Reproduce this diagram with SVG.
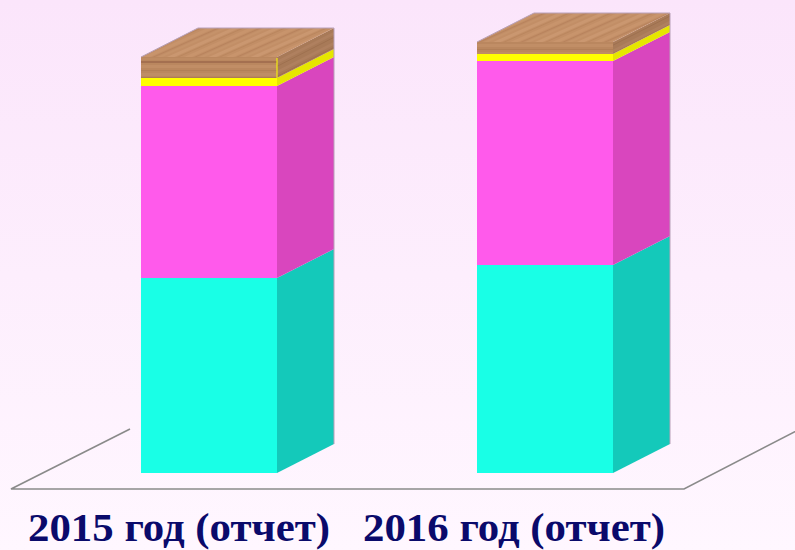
<svg xmlns="http://www.w3.org/2000/svg" width="795" height="550" viewBox="0 0 795 550">
  <defs>
    <linearGradient id="bg" x1="0" y1="0" x2="0" y2="1">
      <stop offset="0" stop-color="#FBE5FB"/>
      <stop offset="1" stop-color="#FFF7FF"/>
    </linearGradient>
    <pattern id="woodFront" patternUnits="userSpaceOnUse" width="40" height="21">
      <rect width="40" height="21" fill="#BA875F"/>
      <rect y="2" width="40" height="3" fill="#C39068" opacity="0.8"/>
      <rect y="7" width="40" height="1" fill="#AE7C56" opacity="0.7"/>
      <rect y="10" width="40" height="3" fill="#C18E66" opacity="0.8"/>
      <rect y="14" width="40" height="1" fill="#A97752" opacity="0.7"/>
      <rect y="16" width="40" height="2" fill="#BF8C64" opacity="0.8"/>
      <rect y="19" width="40" height="2" fill="#A47050"/>
    </pattern>
    <pattern id="woodTop" patternUnits="userSpaceOnUse" width="60" height="17" patternTransform="rotate(-24)">
      <rect width="60" height="17" fill="#C28E66"/>
      <rect y="1" width="60" height="3" fill="#CC9A73" opacity="0.8"/>
      <rect y="5" width="60" height="1" fill="#B48058" opacity="0.6"/>
      <rect y="8" width="60" height="3" fill="#C9966E" opacity="0.8"/>
      <rect y="12" width="60" height="1.2" fill="#B07C56" opacity="0.6"/>
      <rect y="14" width="60" height="2" fill="#C6936B" opacity="0.8"/>
    </pattern>
    <pattern id="woodSide" patternUnits="userSpaceOnUse" width="40" height="10" patternTransform="skewY(-27)">
      <rect width="40" height="10" fill="#A87A58"/>
      <rect y="2" width="40" height="3" fill="#B08260" opacity="0.8"/>
      <rect y="7" width="40" height="1" fill="#9A6C4C" opacity="0.7"/>
    </pattern>
  </defs>
  <style>
    .cyanF{fill:#19FFE6}
    .cyanS{fill:#14C9BA}
    .magF{fill:#FF5AEB}
    .magS{fill:#D946BE}
    .yelF{fill:#FFFF00}
    .yelS{fill:#E6E600}
    .woodF{fill:url(#woodFront)}
    .woodT{fill:url(#woodTop)}
    .woodS{fill:url(#woodSide)}
    .edge{fill:none;stroke:#B8A0B8;stroke-width:1}
    .floor{fill:none;stroke:#8A8A8A;stroke-width:1.6}
    .lbl{font-family:"Liberation Serif","Times New Roman",serif;font-weight:bold;font-size:39px;fill:#0A0A6B}
  </style>
  <rect width="795" height="550" fill="url(#bg)"/>

  <g id="floor">
    <polyline class="floor" points="130,429 11,489 684,489 800,429"/>
  </g>

  <g id="bar-2015">
    <rect class="cyanF" x="141" y="278" width="136" height="195"/>
    <polygon class="cyanS" points="277,278 334,249 334,444 277,473"/>
    <rect class="magF" x="141" y="86" width="136" height="192"/>
    <polygon class="magS" points="277,86 334,57 334,249 277,278"/>
    <rect class="yelF" x="141" y="78" width="136" height="8"/>
    <polygon class="yelS" points="277,78 334,49 334,57 277,86"/>
    <rect class="woodF" x="141" y="57" width="136" height="21"/>
    <polygon class="woodS" points="277,57 334,28 334,49 277,78"/>
    <polygon class="woodT" points="141,57 198,28 334,28 277,57"/>
    <line x1="277" y1="58" x2="277" y2="78" stroke="#FFFF00" stroke-width="1"/>
    <polyline class="edge" points="141,57 198,28 334,28 334,444"/>
  </g>

  <g id="bar-2016">
    <rect class="cyanF" x="477" y="265" width="136" height="208"/>
    <polygon class="cyanS" points="613,265 670,236 670,444 613,473"/>
    <rect class="magF" x="477" y="61" width="136" height="204"/>
    <polygon class="magS" points="613,61 670,32 670,236 613,265"/>
    <rect class="yelF" x="477" y="54" width="136" height="7"/>
    <polygon class="yelS" points="613,54 670,25 670,32 613,61"/>
    <rect class="woodF" x="477" y="42" width="136" height="12"/>
    <polygon class="woodS" points="613,42 670,13 670,25 613,54"/>
    <polygon class="woodT" points="477,42 534,13 670,13 613,42"/>
    <polyline class="edge" points="477,42 534,13 670,13 670,444"/>
  </g>

  <g id="labels">
    <text class="lbl" x="28" y="541" textLength="302" lengthAdjust="spacingAndGlyphs">2015 год (отчет)</text>
    <text class="lbl" x="363" y="541" textLength="302" lengthAdjust="spacingAndGlyphs">2016 год (отчет)</text>
  </g>
</svg>
